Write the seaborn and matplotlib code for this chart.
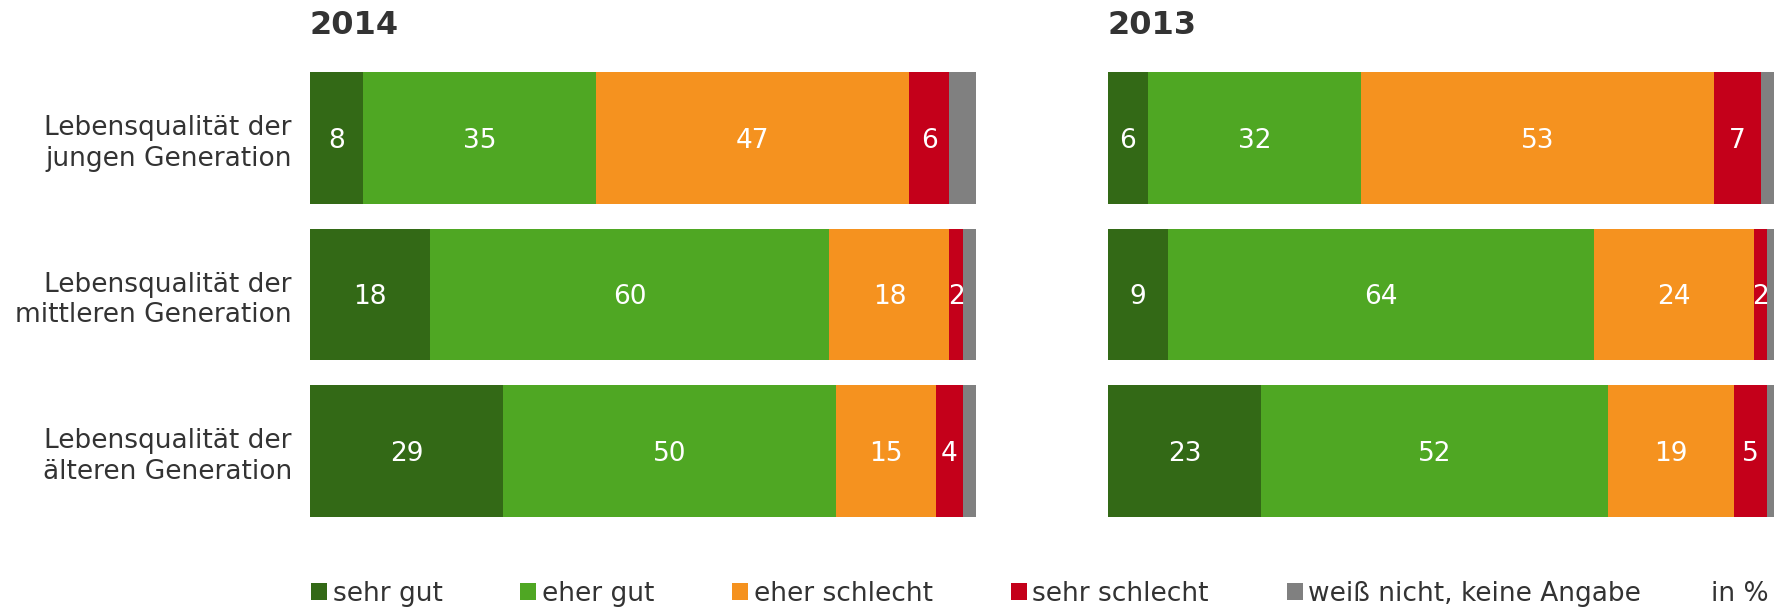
import numpy as np
import pandas as pd
import seaborn as sns
from matplotlib import pyplot as plt
from matplotlib.patches import Patch

# data
groups = ["Lebensqualität der\njungen Generation",
          "Lebensqualität der\nmittleren Generation",
          "Lebensqualität der\nälteren Generation"]
answers = ["sehr gut", "eher gut", "eher schlecht", "sehr schlecht", "weiß nicht, keine Angabe"]
colors = ["#336916", "#4fa723", "#f5921f", "#c4001a", "#808080"]

vals_2014 = {
    "sehr gut": [8, 18, 29],
    "eher gut": [35, 60, 50],
    "eher schlecht": [47, 18, 15],
    "sehr schlecht": [6, 2, 4],
    "weiß nicht, keine Angabe": [4, 2, 2],
}
vals_2013 = {
    "sehr gut": [6, 9, 23],
    "eher gut": [32, 64, 52],
    "eher schlecht": [53, 24, 19],
    "sehr schlecht": [7, 2, 5],
    "weiß nicht, keine Angabe": [2, 1, 1],
}
years = ["2014", "2013"]

sns.set_theme(style="white")
plt.rcParams['font.family'] = ['DejaVu Sans']

W, H = 1789, 609
fig = plt.figure(figsize=(W / 100, H / 100), dpi=100)

panels = [(310, 976), (1108, 1774)]
top, bottom = 72, 517
FS = 19


def draw_panel(ax, vals):
    df = pd.DataFrame(vals, index=groups)
    cum = df.cumsum(axis=1)
    # draw cumulative totals from longest to shortest so they stack
    for ans, col in reversed(list(zip(answers, colors))):
        d = pd.DataFrame({"group": groups, "val": cum[ans].values})
        sns.barplot(data=d, x="val", y="group", color=col, width=0.84,
                    saturation=1, ax=ax, orient="h", linewidth=0)
    for i, g in enumerate(groups):
        for ans in answers[:-1]:
            v = df.loc[g, ans]
            c = cum.loc[g, ans] - v / 2
            ax.text(c, i, f"{v}", ha="center", va="center_baseline", color="white", fontsize=FS)
    ax.set_xlim(0, 100)
    ax.set_ylim(2.42, -0.42)
    ax.set_xlabel("")
    ax.set_ylabel("")
    ax.set_xticks([])
    for s in ax.spines.values():
        s.set_visible(False)


for k, ((l, r), vals, yr) in enumerate(zip(panels, [vals_2014, vals_2013], years)):
    ax = fig.add_axes([l / W, 1 - bottom / H, (r - l) / W, (bottom - top) / H])
    draw_panel(ax, vals)
    fig.text(l / W, 1 - 25 / H, yr, fontsize=23, fontweight="bold",
             color="#333333", ha="left", va="center")
    if k == 0:
        ax.set_yticks(range(len(groups)))
        ax.set_yticklabels(groups, fontsize=FS, color="#333333", linespacing=1.25)
        ax.tick_params(axis="y", length=0, pad=13)
    else:
        ax.set_yticks([])

handles = [Patch(facecolor=c, edgecolor="none") for c in colors]
fig.legend(handles, answers, loc="center left", bbox_to_anchor=(311 / W, 1 - 594 / H),
           ncol=5, frameon=False, fontsize=FS, handlelength=0.6, handleheight=0.6,
           handletextpad=0.22, columnspacing=2.95, borderpad=0, borderaxespad=0,
           labelcolor="#333333")
fig.text(1711 / W, 1 - 594 / H, "in %", fontsize=FS, color="#333333", va="center", ha="left")

fig.savefig("out.png", dpi=100)
